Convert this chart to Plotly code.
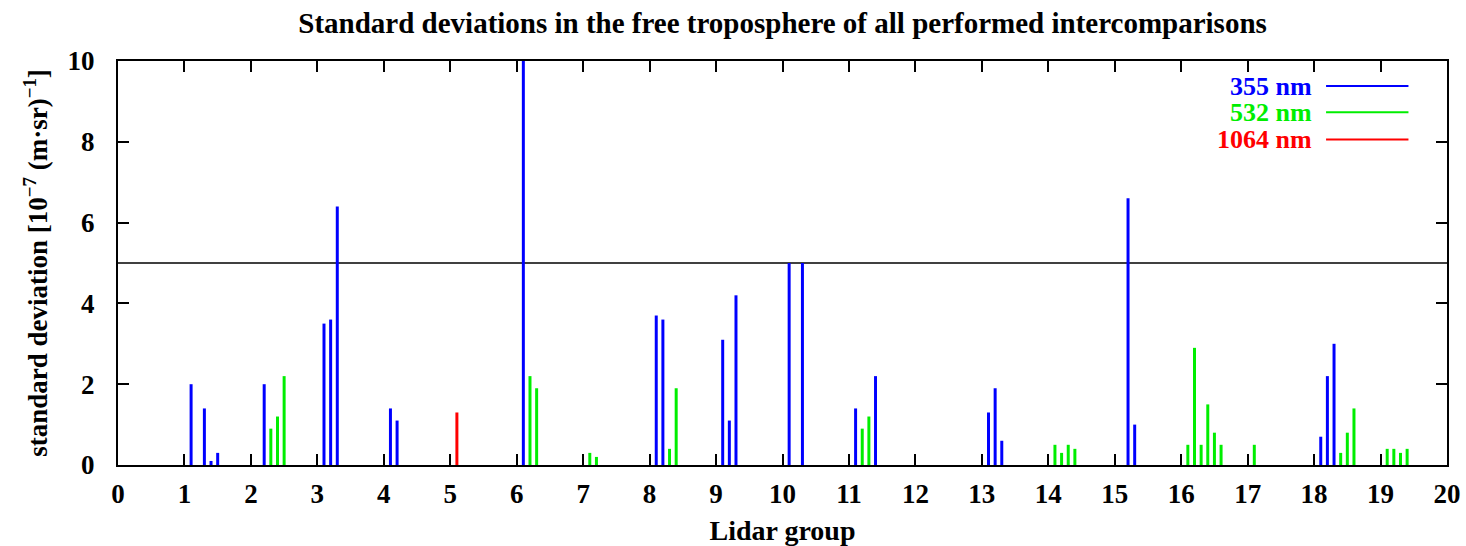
import plotly.graph_objects as go

# ---- data ----
x355 = [1.1, 1.3, 1.4, 1.5, 2.2, 3.1, 3.2, 3.3, 4.1, 4.2, 6.1, 8.1, 8.2, 9.1, 9.2, 9.3,
        10.1, 10.3, 11.1, 11.4, 13.1, 13.2, 13.3, 15.2, 15.3, 18.1, 18.2, 18.3]
y355 = [2.0, 1.4, 0.1, 0.3, 2.0, 3.5, 3.6, 6.4, 1.4, 1.1, 10.0, 3.7, 3.6, 3.1, 1.1, 4.2,
        5.0, 5.0, 1.4, 2.2, 1.3, 1.9, 0.6, 6.6, 1.0, 0.7, 2.2, 3.0]
x532 = [2.3, 2.4, 2.5, 6.2, 6.3, 7.1, 7.2, 8.3, 8.4, 11.2, 11.3, 14.1, 14.2, 14.3, 14.4,
        16.1, 16.2, 16.3, 16.4, 16.5, 16.6, 17.1, 18.4, 18.5, 18.6, 19.1, 19.2, 19.3, 19.4]
y532 = [0.9, 1.2, 2.2, 2.2, 1.9, 0.3, 0.2, 0.4, 1.9, 0.9, 1.2, 0.5, 0.3, 0.5, 0.4,
        0.5, 2.9, 0.5, 1.5, 0.8, 0.5, 0.5, 0.3, 0.8, 1.4, 0.4, 0.4, 0.3, 0.4]
x1064 = [5.1]
y1064 = [1.3]
threshold = 5.0

series = [
    ("355 nm", x355, y355, "#0000ff"),
    ("532 nm", x532, y532, "#00ee00"),
    ("1064 nm", x1064, y1064, "#ff0000"),
]

FONT = "Liberation Serif"
FS = 27

fig = go.Figure()
for name, xs, ys, col in series:
    fig.add_trace(go.Bar(x=xs, y=ys, name=name, width=0.045,
                         marker=dict(color=col, line=dict(width=0)),
                         showlegend=False))

# reference line at 5
fig.add_shape(type="line", xref="paper", x0=0, x1=1, yref="y", y0=threshold, y1=threshold,
              line=dict(color="black", width=1.3), layer="below")

# legend (gnuplot style: text then line sample)
leg_y = [0.938, 0.873, 0.806]
for (name, xs, ys, col), ly in zip(series, leg_y):
    fig.add_annotation(xref="paper", yref="paper", x=0.9, y=ly, text="<b>%s</b>" % name,
                       showarrow=False, xanchor="right", yanchor="middle",
                       font=dict(family=FONT, size=26, color=col))
    fig.add_shape(type="line", xref="paper", yref="paper", x0=0.909, x1=0.971, y0=ly, y1=ly,
                  line=dict(color=col, width=2))

fig.update_layout(
    width=1466, height=546,
    margin=dict(l=118, r=19, t=61, b=81, autoexpand=False),
    paper_bgcolor="white", plot_bgcolor="white",
    barmode="overlay",
    font=dict(family=FONT, size=FS, color="black"),
    title=dict(text="<b>Standard deviations in the free troposphere of all performed intercomparisons</b>",
               x=0.5338, xanchor="center", y=0.958, yanchor="middle",
               font=dict(family=FONT, size=29)),
)
fig.update_xaxes(range=[0, 20], dtick=1, tick0=0, showgrid=False, zeroline=False,
                 showline=True, linecolor="black", linewidth=2, mirror="ticks",
                 ticks="inside", ticklen=11, tickwidth=2, tickcolor="black",
                 tickfont=dict(family=FONT, size=FS, weight="bold"), automargin=False,
                 ticklabelstandoff=4,
                 title=dict(text="<b>Lidar group</b>", font=dict(family=FONT, size=28), standoff=12))
fig.update_yaxes(range=[0, 10], dtick=2, tick0=0, showgrid=False, zeroline=False,
                 showline=True, linecolor="black", linewidth=2, mirror="ticks",
                 ticks="inside", ticklen=11, tickwidth=2, tickcolor="black",
                 tickfont=dict(family=FONT, size=FS, weight="bold"), automargin=False,
                 ticklabelstandoff=16,
                 title=dict(text="<b>standard deviation [10<sup>−7</sup> (m·sr)<sup>−1</sup>]</b>",
                            font=dict(family=FONT, size=FS), standoff=12))

fig.write_html("out.html")
